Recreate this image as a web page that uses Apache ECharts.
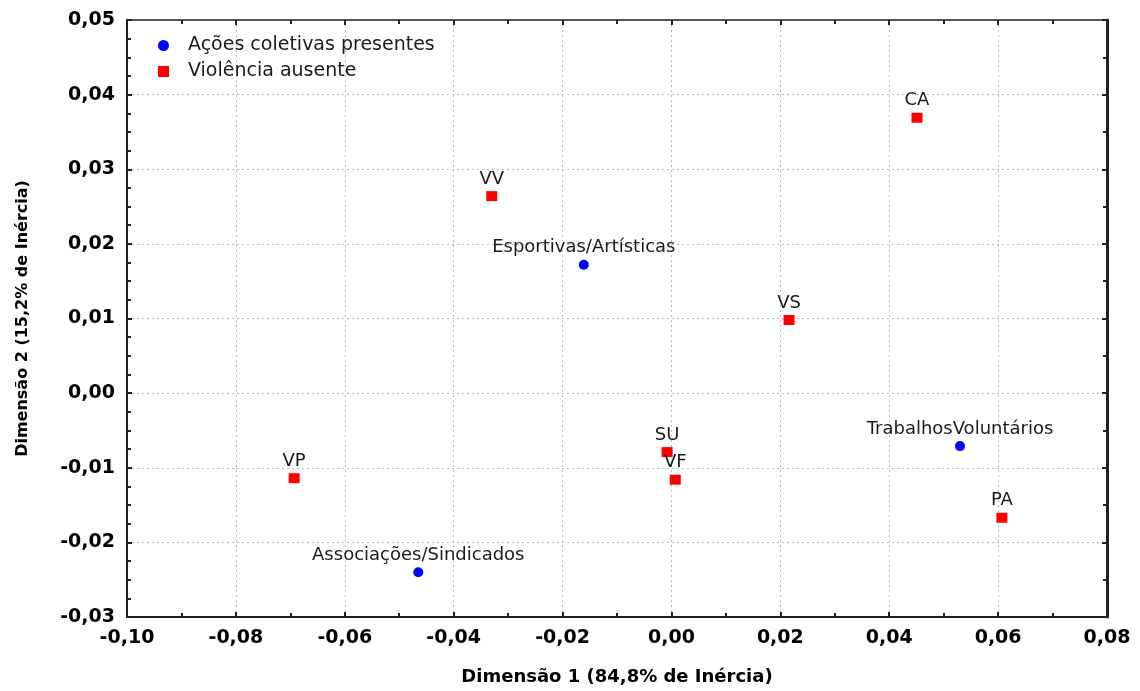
<!DOCTYPE html>
<html>
<head>
<meta charset="utf-8">
<script src="https://cdn.jsdelivr.net/npm/echarts@6/dist/echarts.min.js"></script>
<style>
  html, body { margin: 0; padding: 0; background: #fff; }
  #chart { width: 1140px; height: 691px; }
</style>
</head>
<body>
<div id="chart"></div>
<script>
// Correspondence analysis map - two point groups
const acoesNames = ['Esportivas/Artísticas', 'TrabalhosVoluntários', 'Associações/Sindicados'];
const acoesX = [-0.0161, 0.0530, -0.0465];
const acoesY = [0.0172, -0.0071, -0.0240];

const violenciaNames = ['CA', 'VV', 'VS', 'SU', 'VF', 'VP', 'PA'];
const violenciaX = [0.0451, -0.0330, 0.0216, -0.0008, 0.0007, -0.0693, 0.0607];
const violenciaY = [0.0369, 0.0264, 0.0098, -0.0079, -0.0116, -0.0114, -0.0167];

const seriesNames = ['Ações coletivas presentes', 'Violência ausente'];
const xTicks = { min: -0.10, max: 0.08, step: 0.02 };
const yTicks = { min: -0.03, max: 0.05, step: 0.01 };

const fmt = v => v.toFixed(2).replace('.', ',');
const toPoints = (xs, ys, names) => xs.map((x, i) => [x, ys[i], names[i]]);

const tickFont = { fontFamily: 'DejaVu Sans', fontWeight: 'bold', fontSize: 19, color: '#000' };
const pointLabel = {
    show: true, position: 'top', distance: 3,
    formatter: p => p.data[2],
    fontFamily: 'DejaVu Sans', fontSize: 18, color: '#1a1a1a'
};
const gridDots = { show: true, lineStyle: { color: '#bbb', type: [2, 3], width: 1 } };

const chart = echarts.init(document.getElementById('chart'));
chart.setOption({
    animation: false,
    backgroundColor: '#fff',
    grid: { left: 127, right: 33, top: 20, bottom: 74 },
    legend: {
        orient: 'vertical', left: 153, top: 31, itemGap: 7,
        itemWidth: 11, itemHeight: 11,
        textStyle: { fontFamily: 'DejaVu Sans', fontSize: 19, color: '#1a1a1a', padding: [0, 0, 0, 14] },
        data: [
            { name: seriesNames[0], icon: 'circle' },
            { name: seriesNames[1], icon: 'rect' }
        ]
    },
    xAxis: [{
        type: 'value', min: xTicks.min, max: xTicks.max, interval: xTicks.step,
        name: 'Dimensão 1 (84,8% de Inércia)', nameLocation: 'middle', nameGap: 51,
        nameTextStyle: { fontFamily: 'DejaVu Sans', fontWeight: 'bold', fontSize: 18, color: '#000' },
        axisLine: { show: true, onZero: false, lineStyle: { color: '#222', width: 2 } },
        axisTick: { show: true, inside: true, length: 5, lineStyle: { color: '#222', width: 2 } },
        minorTick: { show: true, splitNumber: 2, length: 4, lineStyle: { color: '#222', width: 2 } },
        axisLabel: { ...tickFont, margin: 12, formatter: fmt },
        splitLine: gridDots
    }, {
        type: 'value', position: 'top', min: xTicks.min, max: xTicks.max, interval: xTicks.step,
        axisLine: { show: true, onZero: false, lineStyle: { color: '#555', width: 2 } },
        axisTick: { show: true, inside: true, length: 5, lineStyle: { color: '#222', width: 2 } },
        minorTick: { show: true, splitNumber: 2, length: 4, lineStyle: { color: '#222', width: 2 } },
        axisLabel: { show: false },
        splitLine: { show: false }
    }],
    yAxis: [{
        type: 'value', min: yTicks.min, max: yTicks.max, interval: yTicks.step,
        name: 'Dimensão 2 (15,2% de Inércia)', nameLocation: 'middle', nameGap: 96,
        nameTextStyle: { fontFamily: 'DejaVu Sans', fontWeight: 'bold', fontSize: 16, color: '#000' },
        axisLine: { show: true, onZero: false, lineStyle: { color: '#222', width: 2 } },
        axisTick: { show: true, inside: true, length: 5, lineStyle: { color: '#222', width: 2 } },
        minorTick: { show: true, splitNumber: 4, length: 4, lineStyle: { color: '#222', width: 2 } },
        axisLabel: { ...tickFont, margin: 12, formatter: fmt },
        splitLine: gridDots
    }, {
        type: 'value', position: 'right', min: yTicks.min, max: yTicks.max, interval: yTicks.step,
        axisLine: { show: true, onZero: false, lineStyle: { color: '#222', width: 3 } },
        axisTick: { show: true, inside: true, length: 5, lineStyle: { color: '#222', width: 2 } },
        minorTick: { show: true, splitNumber: 2, length: 4, lineStyle: { color: '#222', width: 2 } },
        axisLabel: { show: false },
        splitLine: { show: false }
    }],
    series: [{
        name: seriesNames[0], type: 'scatter', symbol: 'circle', symbolSize: 10,
        itemStyle: { color: '#0000ff', opacity: 1 },
        label: pointLabel,
        data: toPoints(acoesX, acoesY, acoesNames)
    }, {
        name: seriesNames[1], type: 'scatter', symbol: 'rect', symbolSize: [11, 10],
        itemStyle: { color: '#ff0000', opacity: 1 },
        label: pointLabel,
        data: toPoints(violenciaX, violenciaY, violenciaNames)
    }]
});
</script>
</body>
</html>
